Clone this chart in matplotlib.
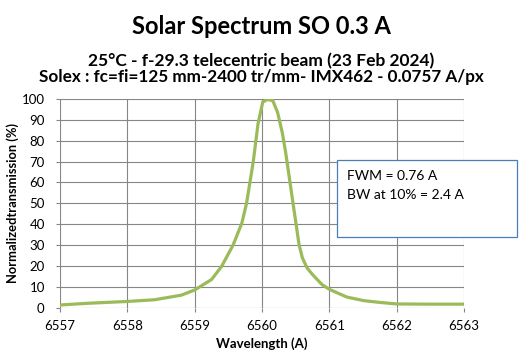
import matplotlib
matplotlib.use("Agg")
import matplotlib.pyplot as plt
from matplotlib.patches import Rectangle

plt.rcParams['font.family'] = ['Lato', 'DejaVu Sans']

# longueur d'onde (A) et transmission normalisée (%)
wavelength = [6557.0, 6557.4, 6558.0, 6558.4, 6558.8, 6559.0, 6559.25, 6559.4,
              6559.57, 6559.7, 6559.77, 6559.82, 6559.87, 6559.94, 6560.01,
              6560.08, 6560.16, 6560.23, 6560.3, 6560.35, 6560.4, 6560.45,
              6560.5, 6560.55, 6560.6, 6560.67, 6560.75, 6560.89, 6561.0,
              6561.26, 6561.51, 6561.76, 6562.0, 6562.5, 6563.0]
transmission = [1.3, 2.1, 3.0, 3.8, 6.0, 8.5, 13.5, 19.8, 30, 40.5, 50, 60, 70,
                88, 98.5, 99.8, 99.2, 93.7, 84, 74.6, 63.5, 52.4, 41.3, 30.2,
                23.8, 19, 15.9, 11.1, 8.8, 5.1, 3.4, 2.5, 1.8, 1.7, 1.7]

x_ticks = [6557, 6558, 6559, 6560, 6561, 6562, 6563]
y_ticks = list(range(0, 101, 10))

title = "Solar Spectrum SO 0.3 A"
subtitle1 = "25°C - f-29.3 telecentric beam (23 Feb 2024)"
subtitle2 = "Solex : fc=fi=125 mm-2400 tr/mm- IMX462 - 0.0757 A/px"
note_lines = ["FWM = 0.76 A", "BW at 10% = 2.4 A"]

fig = plt.figure(figsize=(5.27, 3.55), dpi=100)
ax = fig.add_axes([0.1139, 0.1332, 0.7666, 0.5879])

ax.plot(wavelength, transmission, color="#9BBB59", lw=2.3,
        solid_joinstyle="round", solid_capstyle="round", zorder=3)

ax.set_xlim(6557, 6563)
ax.set_ylim(0, 100)
ax.set_xticks(x_ticks)
ax.set_yticks(y_ticks)
ax.grid(True, color="#868686", lw=0.8)
for s in ax.spines.values():
    s.set_visible(False)
ax.tick_params(axis="both", length=3, width=0.8, color="#868686",
               labelsize=9.5, pad=6)
ax.tick_params(axis="y", pad=8)

ax.set_xlabel("Wavelength (A)", fontweight="bold", fontsize=9.5, labelpad=4)
ax.set_ylabel("Normalizedtransmission (%)", fontweight="bold", fontsize=9.3,
              labelpad=2)

fig.text(0.496, 0.9034, title, ha="center", va="baseline",
         fontsize=17, fontweight="bold")
fig.text(0.496, 0.8121, subtitle1, ha="center", va="baseline",
         fontsize=12.5, fontweight="bold")
fig.text(0.496, 0.7699, subtitle2, ha="center", va="baseline",
         fontsize=12.3, fontweight="bold")

# boîte de texte
fig.patches.append(Rectangle((0.6395, 0.3324), 0.3416, 0.2169,
                             transform=fig.transFigure, facecolor="white",
                             edgecolor="#4A7EBB", lw=0.9, zorder=5))
fig.text(0.658, 0.5042, note_lines[0], va="center", fontsize=10, zorder=6)
fig.text(0.658, 0.4507, note_lines[1], va="center", fontsize=10, zorder=6)

fig.savefig("out.png", dpi=100)
